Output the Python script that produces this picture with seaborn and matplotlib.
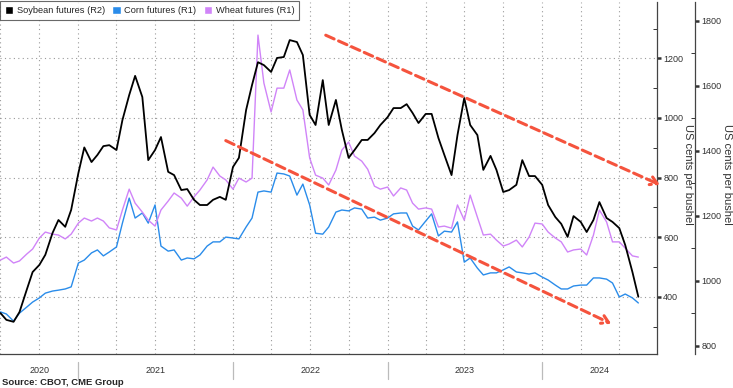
import matplotlib
matplotlib.use('Agg')
import matplotlib.pyplot as plt
import matplotlib.dates as mdates
from matplotlib.ticker import MultipleLocator, NullFormatter
from matplotlib.patches import Patch
import seaborn as sns
import pandas as pd

# Semi-monthly readings, Jul 2020 - Aug 2024 (US cents per bushel)
dates = pd.date_range('2020-07-01', '2024-08-15', freq='SMS')

soybean = [901, 880, 874, 904, 972, 1027, 1049, 1080, 1147, 1187,
           1166, 1218, 1331, 1410, 1365, 1387, 1414, 1417, 1402, 1494,
           1571, 1630, 1565, 1371, 1402, 1442, 1335, 1325, 1279, 1282,
           1249, 1233, 1233, 1249, 1258, 1249, 1350, 1378, 1525, 1602,
           1672, 1663, 1642, 1685, 1688, 1740, 1734, 1694, 1510, 1479,
           1617, 1479, 1556, 1464, 1378, 1402, 1433, 1433, 1454, 1479,
           1503, 1531, 1531, 1543, 1516, 1485, 1513, 1513, 1439, 1387,
           1325, 1448, 1562, 1479, 1448, 1341, 1384, 1341, 1273, 1279,
           1295, 1371, 1322, 1322, 1295, 1233, 1196, 1175, 1135, 1199,
           1181, 1150, 1187, 1242, 1193, 1181, 1162, 1110, 1027, 951]

corn = [349, 342, 318, 345, 365, 382, 396, 412, 419, 422,
        426, 433, 513, 523, 547, 557, 537, 550, 567, 647,
        731, 664, 681, 647, 708, 570, 553, 557, 523, 530,
        527, 540, 570, 584, 584, 600, 597, 594, 634, 664,
        751, 755, 751, 815, 812, 805, 741, 778, 708, 613,
        610, 634, 684, 691, 688, 698, 694, 664, 667, 657,
        664, 678, 681, 681, 637, 624, 654, 678, 604, 620,
        617, 651, 516, 530, 496, 473, 480, 480, 490, 500,
        483, 480, 476, 480, 466, 456, 439, 426, 426, 436,
        439, 439, 463, 463, 459, 446, 399, 409, 396, 379]

wheat = [523, 533, 513, 520, 543, 560, 597, 617, 610, 607,
         594, 610, 647, 664, 654, 664, 654, 631, 624, 691,
         761, 714, 684, 657, 637, 691, 721, 748, 731, 704,
         735, 758, 792, 835, 805, 792, 761, 798, 785, 798,
         1278, 1117, 1020, 1100, 1100, 1161, 1060, 1027, 866, 808,
         798, 775, 825, 892, 919, 872, 855, 828, 771, 761,
         768, 738, 765, 758, 714, 694, 698, 694, 634, 637,
         630, 708, 657, 741, 667, 607, 610, 590, 570, 577,
         590, 567, 600, 647, 644, 617, 597, 584, 550, 557,
         560, 540, 607, 691, 651, 584, 584, 563, 537, 533]

years = [2020, 2021, 2022, 2023, 2024]

# trend channel arrows (in R2 units)
upper_arrow = [(pd.Timestamp('2022-08-08'), 1755), (pd.Timestamp('2024-10-05'), 1295)]
lower_arrow = [(pd.Timestamp('2021-12-15'), 1431), (pd.Timestamp('2024-06-12'), 868)]

BLACK = '#000000'
CORN = '#2a8cea'
WHEAT = '#d084f8'
RED = '#f5533d'
GREY = '#333333'

df = pd.DataFrame({'date': dates, 'soybean': soybean, 'corn': corn, 'wheat': wheat})

sns.set_style('white')
plt.rcParams['font.family'] = ['Liberation Sans', 'DejaVu Sans']

fig = plt.figure(figsize=(7.33, 3.88), dpi=100)
ax = fig.add_axes([0.0, 0.0876, 0.8963, 0.9072])
ax2 = ax.twinx()

sns.lineplot(data=df, x='date', y='corn', ax=ax, color=CORN, lw=1.0)
sns.lineplot(data=df, x='date', y='wheat', ax=ax, color=WHEAT, lw=1.0)
sns.lineplot(data=df, x='date', y='soybean', ax=ax2, color=BLACK, lw=1.3)

xmin, xmax = pd.Timestamp('2020-06-30'), pd.Timestamp('2024-09-28')
ax.set_xlim(xmin, xmax)
ax.set_ylim(207.7, 1389)
ax2.set_ylim(775, 1857)
for a in (ax, ax2):
    a.set_xlabel('')
    a.set_ylabel('')

# spines
ax.spines['left'].set_visible(False)
ax.spines['top'].set_visible(False)
for s in ['left', 'top', 'bottom']:
    ax2.spines[s].set_visible(False)
ax2.spines['right'].set_position(('outward', 27.4))
for a in (ax, ax2):
    a.spines['right'].set_color('#444444')
    a.spines['right'].set_linewidth(0.9)
ax.spines['bottom'].set_color('#444444')
ax.spines['bottom'].set_linewidth(0.9)

# y ticks
ax.yaxis.tick_right()
for a in (ax, ax2):
    a.yaxis.set_major_locator(MultipleLocator(200))
    a.yaxis.set_minor_locator(MultipleLocator(100))
    a.tick_params(axis='y', which='major', direction='out', length=3, width=1.8,
                  pad=1.5, labelsize=6.5, colors=GREY)
    a.tick_params(axis='y', which='minor', direction='in', length=3, width=0.7, colors=GREY)

# x ticks: quarterly grid, monthly ticks
ax.xaxis.set_major_locator(mdates.MonthLocator(bymonth=[1, 4, 7, 10]))
ax.xaxis.set_minor_locator(mdates.MonthLocator())
ax.xaxis.set_major_formatter(NullFormatter())
ax.xaxis.set_minor_formatter(NullFormatter())
ax.tick_params(axis='x', which='both', direction='out', length=3, width=0.7, colors=GREY)

ax.grid(True, which='major', axis='both', color='#9a9a9a', ls=(0, (1, 3)), lw=0.8)
ax2.grid(False)

# year labels and separators
trans = ax.get_xaxis_transform()
for y in years:
    start = max(pd.Timestamp(f'{y}-01-01'), xmin)
    end = min(pd.Timestamp(f'{y + 1}-01-01'), xmax)
    mid = start + (end - start) / 2
    ax.text(mid, -0.048, str(y), transform=trans, ha='center', va='center',
            fontsize=6.5, color=GREY)
    if y > years[0]:
        ax.plot([start, start], [-0.023, -0.072], transform=trans, color='#bbbbbb',
                lw=0.9, clip_on=False)

# trend arrows
for (x0, y0), (x1, y1) in (upper_arrow, lower_arrow):
    ax2.annotate('', xy=(x1, y1), xytext=(x0, y0), annotation_clip=False,
                 arrowprops=dict(arrowstyle='->,head_length=0.5,head_width=0.3',
                                 color=RED, lw=2.2, linestyle=(0, (3, 1.6)),
                                 shrinkA=0, shrinkB=0))

# axis titles
fig.text(688 / 733, 1 - 174 / 388, 'US cents per bushel', rotation=270,
         ha='center', va='center', fontsize=8, color=GREY)
fig.text(727 / 733, 1 - 174 / 388, 'US cents per bushel', rotation=270,
         ha='center', va='center', fontsize=8, color=GREY)

handles = [Patch(facecolor=BLACK, label='Soybean futures (R2)'),
           Patch(facecolor=CORN, label='Corn futures (R1)'),
           Patch(facecolor=WHEAT, label='Wheat futures (R1)')]
leg = fig.legend(handles=handles, loc='upper left', bbox_to_anchor=(0.0, 0.997),
                 ncol=3, frameon=True, fancybox=False, edgecolor='#444444',
                 fontsize=6.7, handlelength=0.9, handleheight=0.9, handletextpad=0.4,
                 columnspacing=0.8, borderpad=0.5, borderaxespad=0)
leg.get_frame().set_linewidth(0.8)

fig.text(0.003, 0.014, 'Source: CBOT, CME Group', fontweight='bold', fontsize=6.8,
         ha='left', va='center')

fig.savefig('out.png', dpi=100)
